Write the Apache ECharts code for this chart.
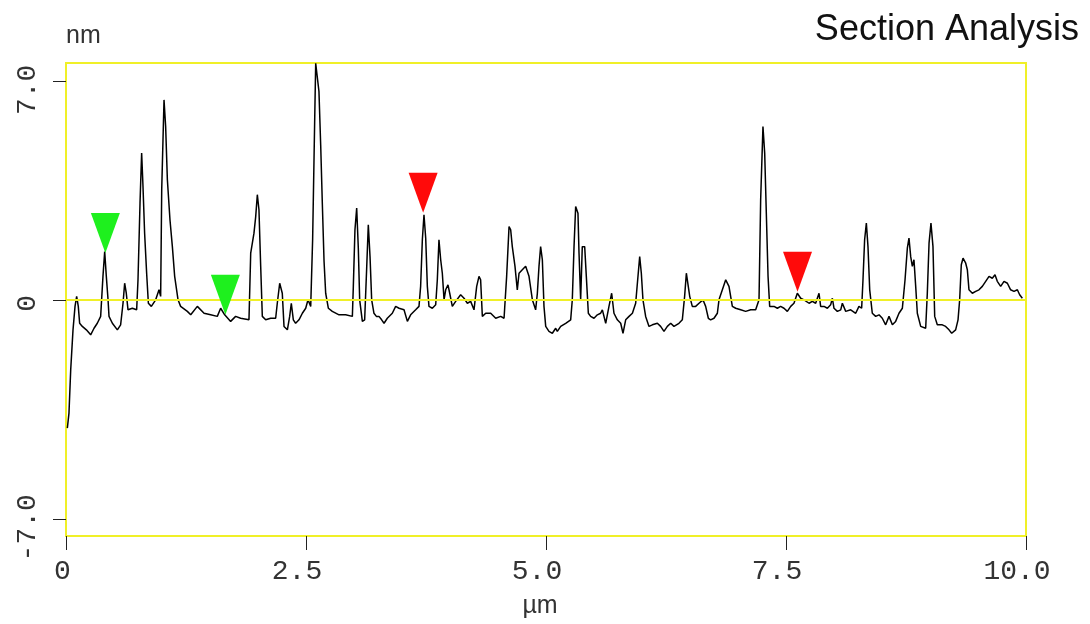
<!DOCTYPE html>
<html>
<head>
<meta charset="utf-8">
<title>Section Analysis</title>
<script src="https://cdn.jsdelivr.net/npm/echarts@6.0.0/dist/echarts.min.js"></script>
<style>
html, body { margin: 0; padding: 0; background: #fff; }
#chart { width: 1090px; height: 624px; }
</style>
</head>
<body>
<div id="chart"></div>
<script>
// axis setup (µm across, nm up)
var xRange = [0, 10];
var yRange = [-7.55, 7.57];
var yTicks = [-7, 0, 7];

// section profile: [µm, nm]
var profile = [
  [0.014, -4.10], [0.031, -3.62], [0.049, -2.24], [0.073, -0.96], [0.094, -0.21], [0.111, 0.11],
  [0.128, -0.21], [0.142, -0.75], [0.17, -0.85], [0.212, -0.96], [0.257, -1.12], [0.292, -0.91],
  [0.326, -0.75], [0.361, -0.53], [0.385, 0.75], [0.403, 1.54], [0.42, 0.75], [0.438, 0.0],
  [0.448, -0.53], [0.483, -0.75], [0.535, -0.96], [0.569, -0.80], [0.594, -0.11], [0.611, 0.53],
  [0.628, 0.21], [0.646, -0.32], [0.691, -0.27], [0.736, -0.32], [0.75, 0.64], [0.771, 3.09],
  [0.788, 4.69], [0.802, 3.62], [0.819, 2.13], [0.84, 0.85], [0.858, -0.11], [0.889, -0.21],
  [0.934, 0.0], [0.969, 0.32], [0.986, 0.11], [0.997, 3.52], [1.021, 6.39], [1.038, 5.54],
  [1.056, 3.84], [1.083, 2.56], [1.108, 1.70], [1.132, 0.75], [1.167, 0.0], [1.194, -0.21],
  [1.264, -0.37], [1.299, -0.48], [1.368, -0.21], [1.438, -0.43], [1.507, -0.48], [1.576, -0.53],
  [1.611, -0.27], [1.653, -0.48], [1.715, -0.69], [1.767, -0.53], [1.819, -0.59], [1.906, -0.64],
  [1.924, 1.49], [1.958, 2.13], [1.976, 2.66], [1.993, 3.36], [2.01, 2.88], [2.028, 1.07],
  [2.045, -0.53], [2.08, -0.64], [2.132, -0.59], [2.184, -0.59], [2.201, -0.11], [2.226, 0.53],
  [2.253, 0.21], [2.271, -0.85], [2.306, -0.96], [2.33, -0.53], [2.347, -0.11], [2.368, -0.64],
  [2.392, -0.75], [2.427, -0.64], [2.462, -0.43], [2.497, -0.27], [2.521, 0.0], [2.549, -0.21],
  [2.569, 1.92], [2.59, 5.65], [2.601, 7.56], [2.618, 7.51], [2.635, 6.66], [2.653, 4.95],
  [2.67, 3.09], [2.688, 1.23], [2.705, 0.21], [2.733, -0.27], [2.774, -0.37], [2.844, -0.48],
  [2.913, -0.48], [2.983, -0.53], [2.993, 0.43], [3.01, 2.24], [3.028, 2.93], [3.045, 1.65],
  [3.059, 0.0], [3.087, -0.69], [3.111, -0.64], [3.132, 1.01], [3.149, 2.40], [3.167, 1.38],
  [3.184, 0.0], [3.208, -0.43], [3.233, -0.53], [3.26, -0.53], [3.288, -0.64], [3.313, -0.75],
  [3.347, -0.59], [3.399, -0.43], [3.434, -0.21], [3.469, -0.27], [3.521, -0.32], [3.556, -0.69],
  [3.59, -0.48], [3.642, -0.32], [3.677, -0.21], [3.694, 0.43], [3.712, 1.92], [3.729, 2.72],
  [3.747, 1.97], [3.764, 0.43], [3.781, -0.21], [3.816, -0.27], [3.851, -0.16], [3.868, 0.64],
  [3.885, 1.92], [3.903, 1.28], [3.92, 0.85], [3.938, 0.0], [3.955, 0.32], [3.979, 0.48],
  [3.997, 0.21], [4.024, -0.21], [4.059, -0.05], [4.111, 0.16], [4.146, 0.05], [4.181, -0.11],
  [4.215, -0.05], [4.25, -0.32], [4.278, 0.43], [4.302, 0.75], [4.319, 0.64], [4.337, -0.53],
  [4.372, -0.43], [4.424, -0.43], [4.476, -0.59], [4.528, -0.53], [4.563, -0.59], [4.59, 0.75],
  [4.615, 2.34], [4.632, 2.24], [4.649, 1.70], [4.677, 1.07], [4.701, 0.32], [4.719, 0.85],
  [4.753, 0.96], [4.788, 1.07], [4.823, 0.75], [4.858, 0.0], [4.892, -0.32], [4.91, 0.21],
  [4.927, 1.07], [4.944, 1.70], [4.962, 1.28], [4.979, -0.21], [4.997, -0.85], [5.031, -1.01],
  [5.066, -1.07], [5.101, -0.91], [5.118, -1.01], [5.153, -0.85], [5.205, -0.75], [5.257, -0.64],
  [5.274, 0.0], [5.292, 1.70], [5.309, 2.98], [5.333, 2.77], [5.344, 1.49], [5.361, 0.0],
  [5.378, 1.70], [5.403, 1.70], [5.42, 0.75], [5.441, -0.43], [5.465, -0.53], [5.5, -0.59],
  [5.535, -0.48], [5.569, -0.43], [5.587, -0.32], [5.622, -0.75], [5.656, -0.21], [5.684, 0.21],
  [5.708, -0.43], [5.743, -0.64], [5.778, -0.75], [5.802, -1.07], [5.83, -0.64], [5.865, -0.53],
  [5.9, -0.43], [5.934, -0.11], [5.955, 0.64], [5.976, 1.38], [5.993, 0.85], [6.01, 0.0],
  [6.038, -0.53], [6.073, -0.85], [6.108, -0.80], [6.16, -0.75], [6.194, -0.85], [6.229, -1.01],
  [6.264, -0.85], [6.299, -0.75], [6.333, -0.85], [6.385, -0.75], [6.42, -0.64], [6.444, 0.11],
  [6.462, 0.85], [6.479, 0.91], [6.497, 0.11], [6.524, -0.21], [6.559, -0.21], [6.594, -0.11],
  [6.635, 0.0], [6.663, -0.21], [6.691, -0.59], [6.715, -0.64], [6.75, -0.59], [6.785, -0.43],
  [6.802, 0.0], [6.837, 0.32], [6.872, 0.64], [6.889, 0.69], [6.906, 0.43], [6.941, -0.21],
  [6.976, -0.27], [7.028, -0.32], [7.08, -0.37], [7.132, -0.32], [7.184, -0.32], [7.219, 0.0],
  [7.236, 3.20], [7.26, 5.54], [7.278, 4.69], [7.295, 2.77], [7.313, 0.75], [7.33, -0.21],
  [7.375, -0.21], [7.41, -0.27], [7.444, -0.21], [7.479, -0.27], [7.514, -0.37], [7.549, -0.21],
  [7.583, -0.11], [7.618, 0.21], [7.653, 0.05], [7.688, 0.0], [7.74, -0.11], [7.774, -0.05],
  [7.809, -0.11], [7.844, 0.21], [7.861, -0.21], [7.896, -0.21], [7.931, -0.27], [7.965, -0.16],
  [7.983, 0.05], [8.0, -0.27], [8.035, -0.37], [8.07, -0.32], [8.087, -0.11], [8.122, -0.37],
  [8.174, -0.32], [8.226, -0.43], [8.26, -0.21], [8.288, -0.27], [8.302, 0.64], [8.319, 1.92],
  [8.337, 2.45], [8.354, 1.70], [8.372, 0.32], [8.399, -0.43], [8.434, -0.53], [8.469, -0.48],
  [8.503, -0.59], [8.538, -0.80], [8.573, -0.53], [8.608, -0.80], [8.642, -0.69], [8.677, -0.43],
  [8.712, -0.27], [8.74, 0.64], [8.764, 1.65], [8.781, 1.97], [8.799, 1.38], [8.816, 1.07],
  [8.833, 1.28], [8.851, 0.43], [8.868, -0.43], [8.903, -0.85], [8.955, -0.91], [8.972, 0.21],
  [8.99, 1.81], [9.01, 2.45], [9.031, 1.70], [9.049, -0.53], [9.076, -0.80], [9.128, -0.80],
  [9.163, -0.85], [9.198, -0.96], [9.226, -1.07], [9.267, -0.96], [9.292, -0.64], [9.309, 0.0],
  [9.326, 1.12], [9.344, 1.33], [9.372, 1.17], [9.389, 0.96], [9.406, 0.32], [9.441, 0.21],
  [9.476, 0.27], [9.51, 0.32], [9.545, 0.43], [9.58, 0.59], [9.615, 0.75], [9.649, 0.69],
  [9.677, 0.80], [9.701, 0.59], [9.736, 0.43], [9.771, 0.59], [9.806, 0.53], [9.84, 0.32],
  [9.875, 0.27], [9.91, 0.32], [9.934, 0.16], [9.962, 0.05]
];

// cursor markers
var greenMarks = [[0.41, 1.5], [1.66, -0.48]];
var redMarks = [[3.72, 2.78], [7.62, 0.26]];

var monoFont = '"Liberation Mono", "DejaVu Sans Mono", monospace';
var sansFont = '"Liberation Sans", Arial, sans-serif';

function fmtTick(v) {
  if (v == 0) return '{z|0}';
  return '{n|' + v.toFixed(1) + '}';
}

var labelRich = {
  n: { fontFamily: monoFont, fontSize: 28, color: '#333', padding: [0, 18, 0, 0] },
  z: { fontFamily: monoFont, fontSize: 28, color: '#333', padding: [0, 7, 0, 0] }
};

var chart = echarts.init(document.getElementById('chart'));
var option = {
  animation: false,
  backgroundColor: '#fff',
  title: {
    text: 'Section Analysis',
    right: 6,
    top: 7,
    textStyle: { fontFamily: sansFont, fontSize: 36, fontWeight: 'normal', color: '#111' }
  },
  grid: {
    left: 66, right: 64, top: 63, bottom: 88,
    show: true,
    borderColor: '#f0f028',
    borderWidth: 2,
    backgroundColor: 'transparent'
  },
  xAxis: {
    type: 'value',
    min: xRange[0],
    max: xRange[1],
    interval: 2.5,
    name: 'µm',
    nameLocation: 'middle',
    nameGap: 58,
    nameTextStyle: { fontFamily: sansFont, fontSize: 25, color: '#333', padding: [0, 12, 0, 0] },
    axisLine: { show: false, onZero: false },
    axisTick: { show: true, inside: false, length: 14, lineStyle: { color: '#222', width: 1 } },
    splitLine: { show: false },
    axisLabel: { margin: 22, formatter: fmtTick, rich: labelRich }
  },
  yAxis: {
    type: 'value',
    min: yRange[0],
    max: yRange[1],
    name: 'nm',
    nameLocation: 'end',
    nameGap: 14,
    nameTextStyle: { fontFamily: sansFont, fontSize: 25, color: '#333', align: 'left' },
    axisLine: { show: false, onZero: false },
    axisTick: { show: true, length: 13, customValues: yTicks, lineStyle: { color: '#222', width: 1 } },
    splitLine: { show: false },
    axisLabel: { margin: 24, rotate: 90, customValues: yTicks, formatter: fmtTick, rich: labelRich }
  },
  series: [
    {
      name: 'profile',
      type: 'line',
      data: profile,
      symbol: 'none',
      lineStyle: { color: '#000', width: 1.5 },
      markLine: {
        silent: true,
        symbol: 'none',
        label: { show: false },
        lineStyle: { color: '#f0f028', width: 2, type: 'solid' },
        data: [{ yAxis: 0 }]
      }
    },
    {
      name: 'green',
      type: 'scatter',
      data: greenMarks,
      symbol: 'triangle',
      symbolRotate: 180,
      symbolSize: [29, 40],
      symbolOffset: [0, -20],
      itemStyle: { color: '#1ef01e', opacity: 1 },
      z: 5
    },
    {
      name: 'red',
      type: 'scatter',
      data: redMarks,
      symbol: 'triangle',
      symbolRotate: 180,
      symbolSize: [29, 40],
      symbolOffset: [0, -20],
      itemStyle: { color: '#ff0a0a', opacity: 1 },
      z: 5
    }
  ]
};
chart.setOption(option);
</script>
</body>
</html>
